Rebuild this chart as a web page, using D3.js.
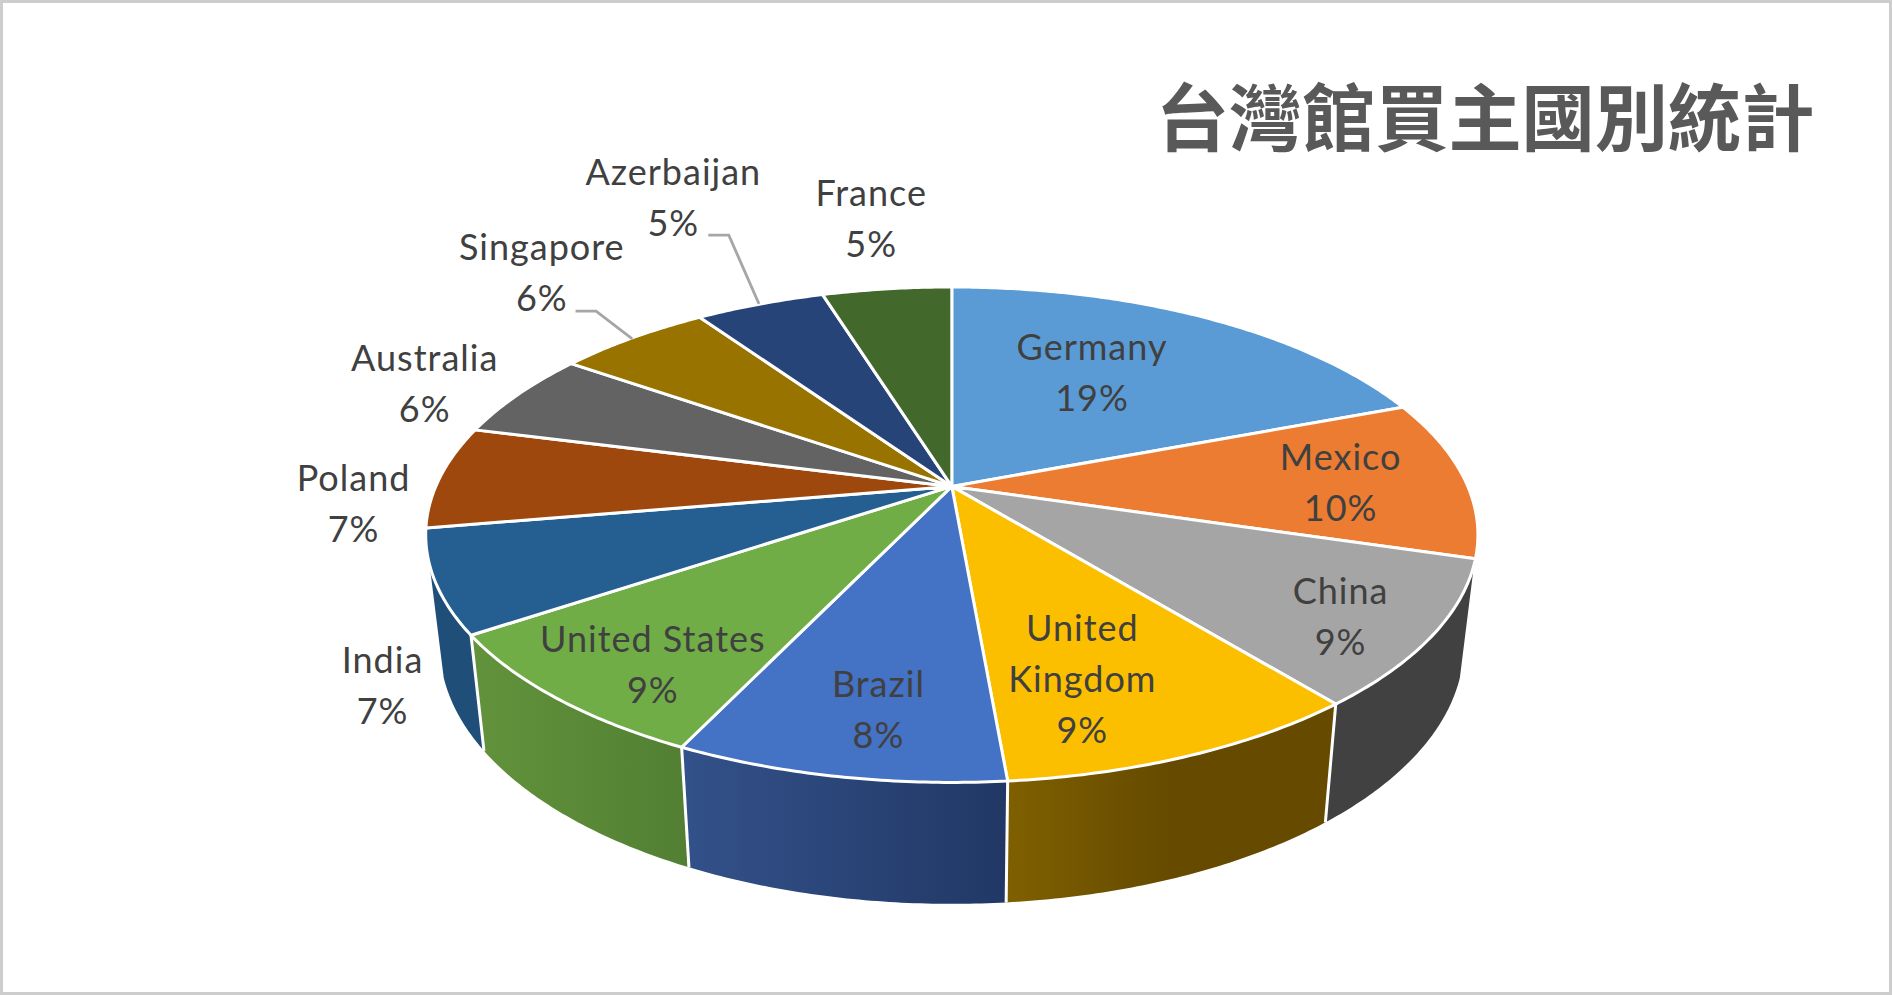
<!DOCTYPE html>
<html><head><meta charset="utf-8">
<script src="https://cdn.jsdelivr.net/npm/d3@7"></script>
<style>html,body{margin:0;padding:0;background:#fff}svg{display:block}</style>
</head><body><div id="chart"></div>
<script>
const countries = ["Germany","Mexico","China","United Kingdom","Brazil","United States","India","Poland","Australia","Singapore","Azerbaijan","France"];
const shares = [19.22,10.41,9.49,9.49,8.49,8.5,6.7,6.7,5.7,5.7,4.8,4.8];
const labelLines = [["Germany"],["Mexico"],["China"],["United","Kingdom"],["Brazil"],["United States"],["India"],["Poland"],["Australia"],["Singapore"],["Azerbaijan"],["France"]];
const topColors = ["#5b9bd5","#eb7c31","#a5a5a5","#fcbf00","#4472c4","#70ad47","#255e91","#9e480e","#636363","#997300","#264478","#43682b"];
const wallStops = {
  "China":["#414141","#414141"],
  "United Kingdom":["#7f6000","#654a00","#654a00"],
  "Brazil":["#33518a","#213865"],
  "United States":["#62933b","#527f33"],
  "India":["#1f4e79","#1f4e79"]
};
const title = "台灣館買主國別統計";
// label centres [x,y of first line], in the frame of a 1568-wide view
const labelCentres = [[905,288],[1111,379],[1111,490],[897,521],[728,567.5],[541,530],[317,547],[293,396],[352,296.5],[449,205],[558,142.5],[722,160]];
const leaderLines = {"Singapore":[[477,258],[494,258],[524,281]],"Azerbaijan":[[587,195],[604,195],[629,252]]};
const lineStep = 42.3;

const W=1892,H=995;
const sx=d3.scaleLinear().domain([0,1568]).range([0,W]);
const sy=d3.scaleLinear().domain([0,825]).range([0,H]);
const svg=d3.select("#chart").append("svg").attr("width",W).attr("height",H);
svg.append("rect").attr("width",W).attr("height",H).attr("fill","#fff");
svg.append("rect").attr("x",1.5).attr("y",1.5).attr("width",W-3).attr("height",H-3).attr("fill","none").attr("stroke","#cdcdcd").attr("stroke-width",3);

// perspective of the disc
const cx=951.8, apexY=486.4, persp=-0.195, A=516, B=238.3;
const top3=t=>{const u=Math.sin(t),v=-Math.cos(t),w=1+persp*v;return [A*u/w,B*v/w];};
const topPt=t=>{const [X,Y]=top3(t);return [cx+X,apexY+Y];};
const botPt=t=>{const [X,Y]=top3(t);return [cx+0.973*X,apexY+1.04*Y+109.6];};
const rimAngles=(a,b)=>{const n=Math.max(2,Math.ceil((b-a)/0.01));return d3.range(n+1).map(i=>a+(b-a)*i/n);};
const line=d3.line().curve(d3.curveLinear);

const pie=d3.pie().sort(null).value(d=>d)(shares);
const wallFrom=108*Math.PI/180, wallTo=252*Math.PI/180;
const defs=svg.append("defs");

// walls
const gWalls=svg.append("g");
pie.forEach((p,i)=>{
  const a=Math.max(p.startAngle,wallFrom), b=Math.min(p.endAngle,wallTo);
  if(b<=a) return;
  const angs=rimAngles(a,b);
  const pts=angs.map(topPt).concat(angs.slice().reverse().map(botPt));
  const stops=wallStops[countries[i]];
  const xs=pts.map(d=>d[0]);
  const id="wall"+i;
  const g=defs.append("linearGradient").attr("id",id).attr("gradientUnits","userSpaceOnUse")
    .attr("x1",d3.min(xs)).attr("x2",d3.max(xs)).attr("y1",0).attr("y2",0);
  stops.forEach((c,k)=>g.append("stop").attr("offset",k/(stops.length-1)).attr("stop-color",c));
  gWalls.append("path").attr("d",line(pts)+"Z").attr("fill",`url(#${id})`);
  const edge=(t)=>gWalls.append("line").attr("x1",topPt(t)[0]).attr("y1",topPt(t)[1]).attr("x2",botPt(t)[0]).attr("y2",botPt(t)[1]).attr("stroke","#fff").attr("stroke-width",3);
  if(p.startAngle>wallFrom) edge(p.startAngle);
});

// top face
svg.append("g").selectAll("path").data(pie).join("path")
  .attr("d",p=>line([[cx,apexY]].concat(rimAngles(p.startAngle,p.endAngle).map(topPt)))+"Z")
  .attr("fill",(p,i)=>topColors[i]).attr("stroke","#fff").attr("stroke-width",3).attr("stroke-linejoin","round");

// leaders
const gLead=svg.append("g");
Object.values(leaderLines).forEach(l=>gLead.append("path").attr("d",line(l.map(d=>[sx(d[0]),sy(d[1])]))).attr("fill","none").attr("stroke","#a6a6a6").attr("stroke-width",2.8));

// labels
const pct=d3.format(".0%");
const gText=svg.append("g").attr("font-family","Lato, 'Noto Sans', sans-serif").attr("font-size",36).attr("letter-spacing",1).attr("fill","#404040").attr("text-anchor","middle");
pie.forEach((p,i)=>{
  const lines=labelLines[i].concat([pct(p.value/d3.sum(shares))]);
  lines.forEach((s,k)=>gText.append("text").attr("x",sx(labelCentres[i][0])).attr("y",sy(labelCentres[i][1]+k*lineStep)).attr("dy","0.36em").text(s));
});

// title
svg.append("text").attr("x",sx(1230.7)).attr("y",sy(98)).attr("dy","0.36em").attr("text-anchor","middle")
  .attr("font-family","'Noto Sans CJK TC'").attr("font-weight",700).attr("font-size",73.2).attr("fill","#595959").text(title);
</script></body></html>
